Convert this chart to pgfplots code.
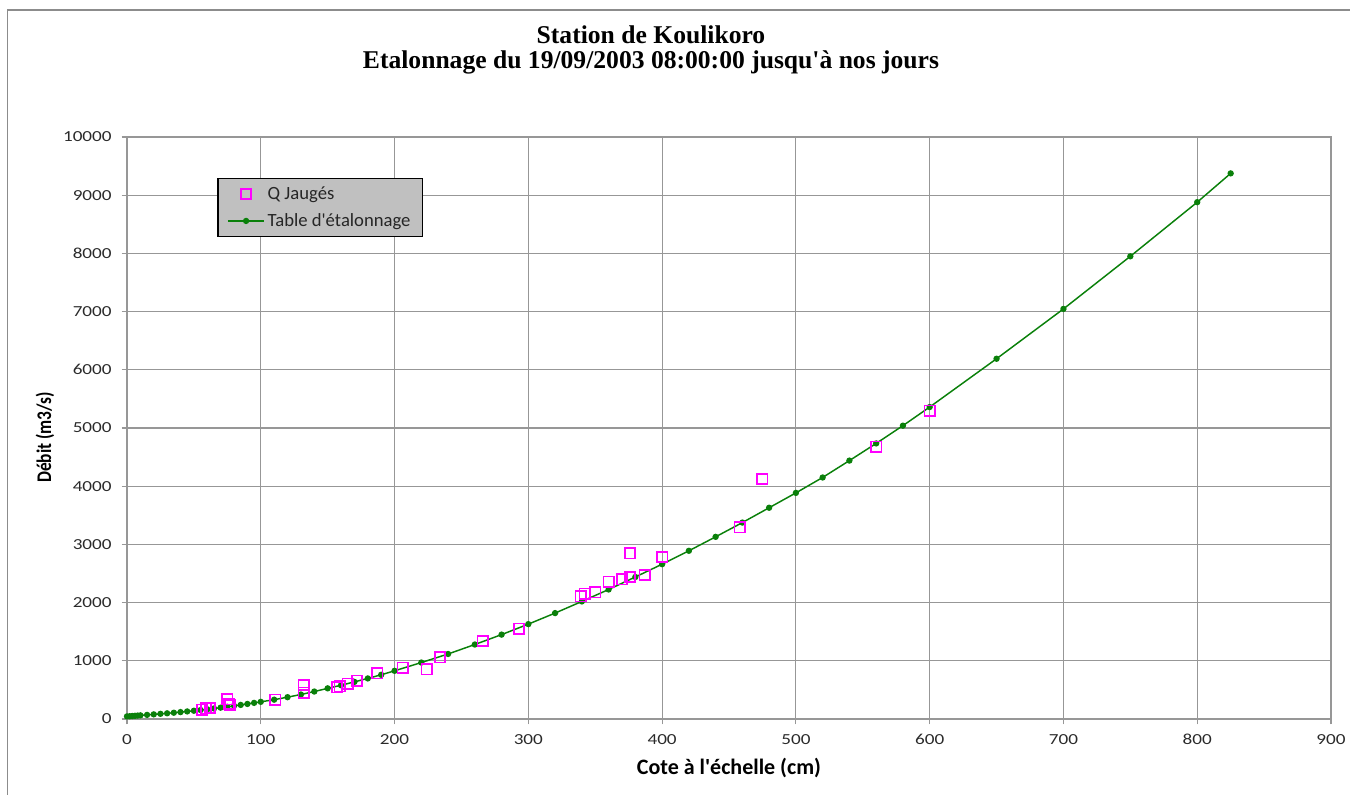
\documentclass[border=0pt]{standalone}
\usepackage{graphicx}
\usepackage{pgfplots}
\pgfplotsset{compat=1.18}
\usepackage{fontspec}
\setmainfont{Carlito}[Ligatures=TeXOff]
\newfontfamily\titlefont{Liberation Serif}
\definecolor{gridgray}{HTML}{979797}
\definecolor{bordergray}{HTML}{8C8C8C}
\definecolor{curvegreen}{HTML}{0A800A}
\definecolor{legfill}{HTML}{C0C0C0}
\definecolor{ticktext}{HTML}{2A2A2A}
\definecolor{sqmag}{HTML}{FF00FF}

\pgfplotstableread{
h q
0 45
2 48
4 52
6 55
8 59
10 63
15 71
20 80
25 89
30 98
35 108
40 119
45 130
50 142
55 154
60 167
65 181
70 195
75 210
80 226
85 242
90 259
95 277
100 295
110 332
120 375
130 421
140 472
150 527
160 580
170 638
180 697
190 760
200 828
220 970
240 1117
260 1280
280 1450
300 1630
320 1820
340 2020
360 2225
380 2440
400 2660
420 2890
440 3130
460 3375
480 3630
500 3885
520 4150
540 4440
560 4735
580 5040
600 5360
650 6190
700 7046
750 7950
800 8880
825 9375
}\tablecurve

\pgfplotstableread{
h q
56 160
59 185
62 190
75 340
76 265
77 240
111 333
132 585
132 455
157 545
159 560
165 609
172 661
187 787
206 879
224 851
234 1057
266 1340
293 1550
339 2110
342 2150
350 2180
360 2360
370 2400
376 2440
376 2850
387 2475
400 2785
458 3295
475 4125
560 4680
600 5300
}\tablejauges

\begin{document}
\begin{tikzpicture}
\path[use as bounding box] (0,0) rectangle (1012.5pt,595.5pt);
\draw[bordergray, line width=1.1pt] (5.6pt,-2pt) -- (5.6pt,588pt) -- (1014pt,588pt);
\node[font=\titlefont\bfseries\fontsize{19.2}{21}\selectfont, anchor=base] at (488.25pt,562.5pt) {Station de Koulikoro};
\node[font=\titlefont\bfseries\fontsize{19.2}{21}\selectfont, anchor=base] at (488.25pt,543.75pt) {Etalonnage du 19/09/2003 08:00:00 jusqu'à nos jours};
\begin{axis}[
  scale only axis, width=903pt, height=436.5pt,
  at={(95.25pt,56.25pt)}, anchor=south west,
  xmin=0, xmax=900, ymin=0, ymax=10000,
  xtick={0,100,...,900}, ytick={0,1000,...,10000},
  scaled ticks=false,
  /pgf/number format/1000 sep={},
  /pgf/number format/assume math mode=true,
  grid=major,
  major grid style={gridgray, line width=0.8pt},
  axis line style={gridgray, line width=0.8pt},
  tick style={gridgray, line width=0.8pt},
  tick align=outside, tick pos=left, major tick length=4pt,
  xticklabel={\scalebox{1.25}[1]{\pgfmathprintnumber{\tick}}},
  yticklabel={\scalebox{1.25}[1]{\pgfmathprintnumber{\tick}}},
  tick label style={font=\fontsize{11.5}{13}\selectfont, text=ticktext},
  xticklabel style={yshift=-4pt},
  yticklabel style={xshift=-4pt},
  xlabel={\bfseries\fontsize{16.5}{18}\selectfont Cote à l'échelle (cm)},
  xlabel style={at={(axis description cs:0.5,-0.084)}, anchor=center, text=black},
  ylabel={\scalebox{1}[1.2]{\bfseries\fontsize{13}{15}\selectfont Débit (m3/s)}},
  ylabel style={at={(axis description cs:-0.0681,0.4837)}, anchor=center, text=black},
  legend cell align=left,
  legend style={at={(rel axis cs:0.0748,0.9296)}, anchor=north west,
    fill=legfill, draw=black, line width=1.1pt,
    font=\fontsize{14}{16}\selectfont, text=black!85,
    inner xsep=7pt, inner ysep=4pt, row sep=5pt},
  legend image code/.code={\path[draw=none] (0cm,0cm) -- (0.96cm,0cm);
    \draw[mark repeat=2,mark phase=2] plot coordinates {(0cm,0cm) (0.48cm,0cm) (0.96cm,0cm)};},
]
\addplot[curvegreen, line width=1.1pt, mark=*, mark size=1.8pt,
  mark options={fill=curvegreen, draw=curvegreen}, forget plot]
  table[x=h, y=q] {\tablecurve};
\addplot[only marks, mark=square, mark size=3.9pt, color=sqmag, line width=1.2pt,
  legend image code/.code={\path[draw=none] (0cm,0cm) -- (0.96cm,0cm);
    \path plot[only marks] coordinates {(0.48cm,0cm)};}]
  table[x=h, y=q] {\tablejauges};
\addlegendentry{Q Jaugés}
\addlegendimage{curvegreen, line width=1.1pt, mark=*, mark size=1.8pt,
  mark options={fill=curvegreen, draw=curvegreen}}
\addlegendentry{Table d'étalonnage}
\end{axis}
\end{tikzpicture}
\end{document}
